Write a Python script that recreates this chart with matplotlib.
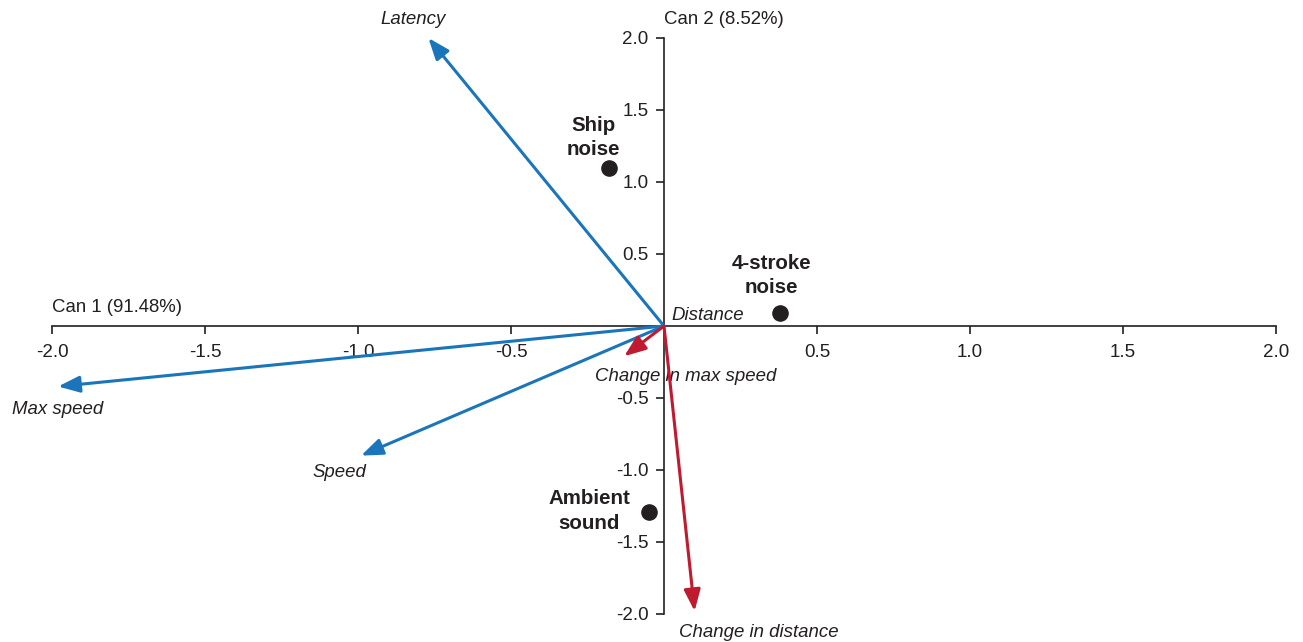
import matplotlib
matplotlib.use("Agg")
import matplotlib.pyplot as plt

plt.rcParams['font.family'] = ['Liberation Sans', 'DejaVu Sans']

# Group centroids
groups = ["Ship\nnoise", "4-stroke\nnoise", "Ambient\nsound"]
group_x = [-0.18, 0.38, -0.05]
group_y = [1.10, 0.09, -1.29]
group_label_x = [-0.23, 0.35, -0.245]
group_label_y = [1.31, 0.35, -1.285]

# Variable loadings (arrows)
variables = ["Latency", "Max speed", "Speed", "Distance",
             "Change in max speed", "Change in distance"]
var_x = [-0.77, -1.98, -0.99, 0.0, -0.13, 0.10]
var_y = [2.00, -0.42, -0.90, 0.0, -0.21, -1.98]
var_color = ["#1b75bb", "#1b75bb", "#1b75bb", "#1b75bb", "#c01a30", "#c01a30"]
var_label_x = [-0.82, -1.98, -1.06, 0.025, 0.07, 0.31]
var_label_y = [2.125, -0.58, -1.02, 0.076, -0.35, -2.13]
var_label_ha = ["center", "center", "center", "left", "center", "center"]

xticks = [-2.0, -1.5, -1.0, -0.5, 0.5, 1.0, 1.5, 2.0]
yticks = [2.0, 1.5, 1.0, 0.5, -0.5, -1.0, -1.5, -2.0]
xlabel = "Can 1 (91.48%)"
ylabel = "Can 2 (8.52%)"

fig = plt.figure(figsize=(13.03, 6.42), dpi=100)
ax = fig.add_axes([52 / 1303, 28 / 642, 1224 / 1303, 576 / 642])
ax.set_xlim(-2, 2)
ax.set_ylim(-2, 2)
ax.patch.set_alpha(0)

for s in ["top", "right"]:
    ax.spines[s].set_visible(False)
ax.spines["left"].set_position(("data", 0))
ax.spines["bottom"].set_position(("data", 0))
for s in ["left", "bottom"]:
    ax.spines[s].set_linewidth(1.2)
    ax.spines[s].set_color("#231f20")

ax.set_xticks(xticks)
ax.set_xticklabels([f"{v:.1f}" for v in xticks])
ax.set_yticks(yticks)
ax.set_yticklabels([f"{v:.1f}" for v in yticks])
ax.tick_params(axis="x", direction="out", length=6, width=1.2, pad=7,
               labelsize=13.5, colors="#231f20")
ax.tick_params(axis="y", direction="out", length=6, width=1.2, pad=5,
               labelsize=13.5, colors="#231f20")

ax.text(-2.0, 0.13, xlabel, ha="left", va="center", fontsize=13.4, color="#231f20")
ax.text(0.0, 2.125, ylabel, ha="left", va="center", fontsize=13.4, color="#231f20")

for name, x, y, c, lx, ly, ha in zip(variables, var_x, var_y, var_color,
                                     var_label_x, var_label_y, var_label_ha):
    if abs(x) + abs(y) > 1e-6:
        ax.annotate("", xy=(x, y), xytext=(0, 0),
                    arrowprops=dict(arrowstyle="-|>,head_length=1.3,head_width=0.5",
                                    color=c, lw=2.2, shrinkA=0, shrinkB=0),
                    annotation_clip=False)
    ax.text(lx, ly, name, ha=ha, va="center", fontsize=13.4, style="italic",
            color="#231f20")

ax.scatter(group_x, group_y, s=120, color="#231f20", zorder=5, clip_on=False)
for name, lx, ly in zip(groups, group_label_x, group_label_y):
    ax.text(lx, ly, name, ha="center", va="center", fontsize=14.8,
            fontweight="bold", color="#231f20", linespacing=1.35)

fig.savefig("out.png", dpi=100)
